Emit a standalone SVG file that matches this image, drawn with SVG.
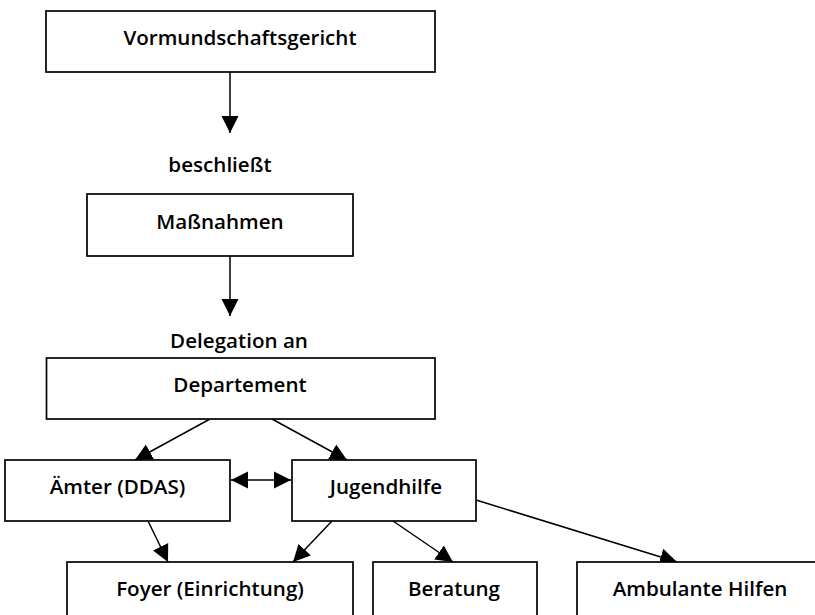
<svg xmlns="http://www.w3.org/2000/svg" width="815" height="615" viewBox="0 0 815 615">
<style>
.box{fill:#fff;stroke:#000;stroke-width:1.7}
.t{font-family:"Open Sans","Liberation Sans",sans-serif;font-weight:600;font-size:20.6px;fill:#000;text-anchor:middle}
.c{stroke:#000;stroke-width:1.5;fill:none}
</style>
<defs>
<marker id="ah" markerUnits="userSpaceOnUse" markerWidth="18" markerHeight="18" refX="17" refY="8.5" orient="auto-start-reverse" viewBox="0 0 18 17">
<path d="M0,0 L17,8.5 L0,17 z" fill="#000"/>
</marker>
</defs>
<rect width="815" height="615" fill="#fff"/>
<g id="connectors">
<line class="c" x1="230" y1="72" x2="230" y2="133" marker-end="url(#ah)"/>
<line class="c" x1="230" y1="256" x2="230" y2="316" marker-end="url(#ah)"/>
<line class="c" x1="210" y1="419" x2="135" y2="460" marker-end="url(#ah)"/>
<line class="c" x1="272" y1="419" x2="347" y2="460" marker-end="url(#ah)"/>
<line class="c" x1="231" y1="480" x2="291" y2="480" marker-start="url(#ah)" marker-end="url(#ah)"/>
<line class="c" x1="148" y1="521" x2="168" y2="562" marker-end="url(#ah)"/>
<line class="c" x1="332" y1="521" x2="293" y2="562" marker-end="url(#ah)"/>
<line class="c" x1="393" y1="521" x2="453" y2="562" marker-end="url(#ah)"/>
<line class="c" x1="476" y1="500" x2="677" y2="562" marker-end="url(#ah)"/>
</g>
<g id="label-beschliesst"><text class="t" x="220" y="172">beschließt</text></g>
<g id="label-delegation"><text class="t" x="239" y="348">Delegation an</text></g>
<g id="vormundschaftsgericht"><rect class="box" x="46" y="11" width="389" height="61"/><text class="t" x="240" y="45">Vormundschaftsgericht</text></g>
<g id="massnahmen"><rect class="box" x="87" y="194" width="266" height="62"/><text class="t" x="220" y="229">Maßnahmen</text></g>
<g id="departement"><rect class="box" x="46.5" y="358" width="388.5" height="61"/><text class="t" x="240" y="392">Departement</text></g>
<g id="aemter"><rect class="box" x="5" y="460" width="225" height="61"/><text class="t" x="117.5" y="494">Ämter (DDAS)</text></g>
<g id="jugendhilfe"><rect class="box" x="292" y="460" width="184" height="61"/><text class="t" x="386" y="494">Jugendhilfe</text></g>
<g id="foyer"><rect class="box" x="67" y="562" width="286" height="62"/><text class="t" x="210" y="596">Foyer (Einrichtung)</text></g>
<g id="beratung"><rect class="box" x="373" y="562" width="164" height="62"/><text class="t" x="454" y="596">Beratung</text></g>
<g id="ambulante"><rect class="box" x="577" y="562" width="240" height="62"/><text class="t" x="700" y="596">Ambulante Hilfen</text></g>
</svg>
